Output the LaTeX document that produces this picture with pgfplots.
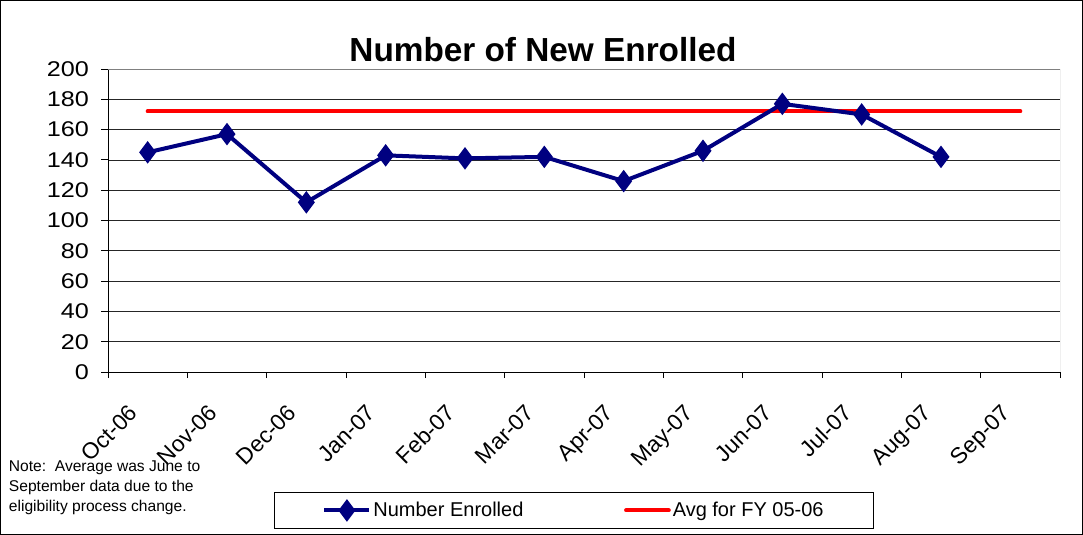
\documentclass[border=0pt]{standalone}
\usepackage{pgfplots}
\pgfplotsset{compat=1.18}
\usepackage{fontspec}
\setmainfont{Liberation Sans}
\newfontfamily\widefont[FakeStretch=1.18]{Liberation Sans}
\definecolor{enrolblue}{RGB}{0,0,128}
\definecolor{avgred}{RGB}{255,0,0}
\pgfplotsset{
  redleg/.style={legend image code/.code={\draw[##1] (0pt,0pt) -- (32pt,0pt);}},
  blueleg/.style={legend image code/.code={\draw[mark repeat=2,mark phase=2,##1] plot coordinates {(0pt,0pt) (16.9pt,0pt) (33.75pt,0pt)};}},
}

\begin{document}
\begin{tikzpicture}
% outer chart frame (1px = 0.75pt)
\draw[black, line width=0.75pt] (0.375pt,-0.375pt) rectangle (811.875pt,-400.875pt);
\begin{axis}[
  at={(81pt,-279pt)}, anchor=south west,
  scale only axis, width=714pt, height=227.25pt,
  xmin=-0.5, xmax=11.5, ymin=0, ymax=200,
  ytick={0,20,...,200},
  xtick={0,...,11},
  xticklabels={Oct-06,Nov-06,Dec-06,Jan-07,Feb-07,Mar-07,Apr-07,May-07,Jun-07,Jul-07,Aug-07,Sep-07},
  minor xtick={-0.5,0.5,...,11.5},
  axis x line*=bottom, axis y line*=left,
  axis line style={-, black, line width=0.75pt},
  tick align=outside,
  tick style={black, line width=0.75pt},
  major tick length=5.25pt,
  minor tick length=4.5pt,
  major x tick style={draw=none},
  ymajorgrids,
  grid style={black!85, line width=0.6pt},
  /pgf/number format/assume math mode=true,
  yticklabel style={font=\widefont\fontsize{16}{20}\selectfont, xshift=-5.5pt},
  xticklabel style={font=\fontsize{17}{20}\selectfont, xshift=-15pt, yshift=-16.5pt,
    rotate=45, anchor=north east, inner sep=1pt},
  legend columns=2,
  reverse legend,
  legend style={
    at={(0.4895,-0.457)}, anchor=center,
    draw=black, line width=0.75pt,
    font=\fontsize{15}{18}\selectfont,
    inner xsep=36pt, inner ysep=5pt,
    nodes={inner xsep=1.5pt},
    /tikz/every even column/.append style={column sep=74pt},
  },
]
\addplot[avgred, line width=3pt, line cap=round, redleg]
  coordinates {(0,172)(1,172)(2,172)(3,172)(4,172)(5,172)(6,172)(7,172)(8,172)(9,172)(10,172)(11,172)};
\addlegendentry{Avg for FY 05-06}
\addplot[enrolblue, line width=3pt, mark=diamond*, mark size=6pt,
  mark options={solid}, blueleg]
  coordinates {(0,145)(1,157)(2,112)(3,143)(4,141)(5,142)(6,126)(7,146)(8,177)(9,170)(10,142)};
\addlegendentry{Number Enrolled}
\draw[gray, line width=0.75pt] (rel axis cs:0,1) -- (rel axis cs:1,1) -- (rel axis cs:1,0);
\end{axis}
\node[anchor=base, font=\fontsize{25}{30}\selectfont\bfseries, inner sep=0pt] at (407.25pt,-46.5pt) {Number of New Enrolled};
\node[anchor=base west, align=left, inner sep=0pt, font=\fontsize{11.7}{15}\selectfont] at (6.5pt,-383.25pt)
  {Note:\ \ Average was June to\\September data due to the\\eligibility process change.};
\end{tikzpicture}
\end{document}
